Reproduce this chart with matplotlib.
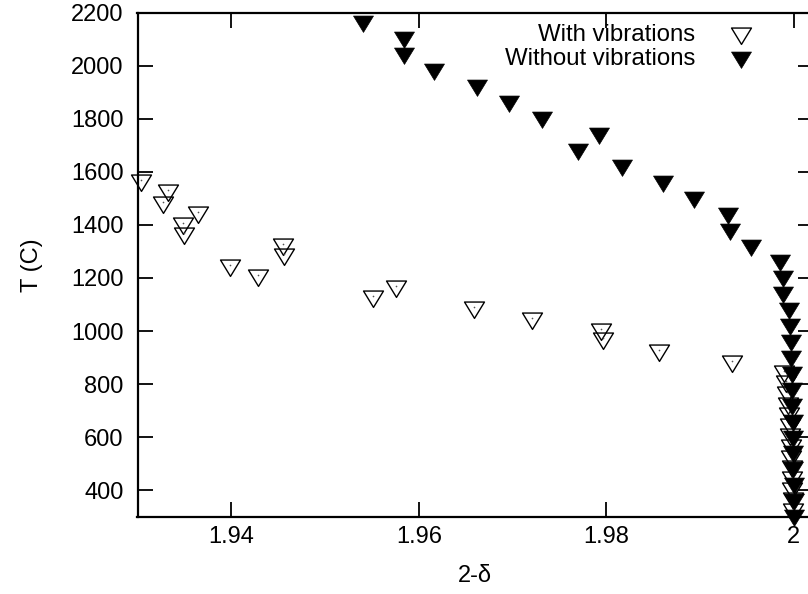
import matplotlib
matplotlib.use("Agg")
import matplotlib.pyplot as plt
from matplotlib.path import Path

plt.rcParams['font.family'] = ['Liberation Sans', 'DejaVu Sans']

# Oxygen stoichiometry (2 - delta) versus temperature
with_vib_x = [1.9304, 1.9333, 1.9327, 1.9365, 1.9349, 1.9350, 1.9399, 1.9429,
              1.9455, 1.9456, 1.9551, 1.9576, 1.9659, 1.9721, 1.9794, 1.9797,
              1.9856, 1.9934, 1.9990, 1.9992, 1.9993, 1.9994, 1.9995, 1.9996,
              1.9996, 1.9997, 1.9997, 1.9998, 1.9998, 1.9998, 1.9999, 1.9999]
with_vib_T = [1570, 1530, 1488, 1450, 1409, 1370, 1250, 1210,
              1329, 1289, 1131, 1171, 1091, 1050, 1009, 972,
              930, 888, 849, 810, 770, 730, 690, 650,
              610, 570, 530, 490, 450, 410, 370, 330]

without_vib_x = [1.9540, 1.9584, 1.9584, 1.9616, 1.9662, 1.9696, 1.9731, 1.9792,
                 1.9770, 1.9817, 1.9860, 1.9894, 1.9930, 1.9932, 1.9954, 1.9985,
                 1.9989, 1.9988, 1.9995, 1.9996, 1.9997, 1.9997, 1.9998, 1.9998,
                 1.9998, 1.9999, 1.9999, 1.9999, 1.9999, 2.0000, 2.0000, 2.0000]
without_vib_T = [2167, 2107, 2047, 1988, 1927, 1867, 1807, 1747,
                 1687, 1626, 1566, 1506, 1445, 1385, 1325, 1266,
                 1206, 1146, 1086, 1026, 966, 906, 846, 786,
                 726, 666, 606, 546, 486, 426, 366, 306]

x_ticks = [1.94, 1.96, 1.98, 2.00]
x_tick_labels = ['1.94', '1.96', '1.98', '2']
y_ticks = [400, 600, 800, 1000, 1200, 1400, 1600, 1800, 2000, 2200]

# downward triangle whose centroid sits on the data point
h = 1.64
tri = Path([(-1.0, h / 3), (1.0, h / 3), (0.0, -2 * h / 3), (-1.0, h / 3)],
           [Path.MOVETO, Path.LINETO, Path.LINETO, Path.CLOSEPOLY])

fig = plt.figure(figsize=(8.08, 5.94), dpi=100)
W, H = 808, 594
left, right, top, bottom = 137.5, 812.5, 12.7, 516.7
ax = fig.add_axes([left / W, 1 - bottom / H, (right - left) / W, (bottom - top) / H])

ms = 15.7
ax.plot(with_vib_x, with_vib_T, linestyle='none', marker=tri, markersize=ms,
        markerfacecolor='none', markeredgecolor='black', markeredgewidth=1.0,
        clip_on=False, label='With vibrations', zorder=3)
ax.plot(with_vib_x, with_vib_T, linestyle='none', marker='o', markersize=1.2,
        markerfacecolor='#555555', markeredgewidth=0, clip_on=False, zorder=3)
ax.plot(without_vib_x, without_vib_T, linestyle='none', marker=tri, markersize=ms,
        markerfacecolor='black', markeredgecolor='black', markeredgewidth=0.5,
        clip_on=False, label='Without vibrations', zorder=4)

ax.set_xlim(1.93, 2.002)
ax.set_ylim(300, 2200)
ax.set_xticks(x_ticks)
ax.set_xticklabels(x_tick_labels)
ax.set_yticks(y_ticks)

ax.tick_params(direction='in', length=11, width=1.3, labelsize=17,
               top=True, right=True)
ax.tick_params(axis='y', pad=10)
ax.tick_params(axis='x', pad=7)
for s in ax.spines.values():
    s.set_linewidth(1.6)

ax.set_xlabel('2-δ', fontsize=17, labelpad=12)
ax.set_ylabel('T (C)', fontsize=17, labelpad=20)

leg = ax.legend(loc='upper right', bbox_to_anchor=(753 / W, 1 - 24 / H),
                bbox_transform=fig.transFigure, frameon=False, markerfirst=False,
                fontsize=17.3, handlelength=1.0, handletextpad=1.4,
                labelspacing=0.08, borderpad=0, borderaxespad=0)

fig.savefig('out.png', dpi=100)
